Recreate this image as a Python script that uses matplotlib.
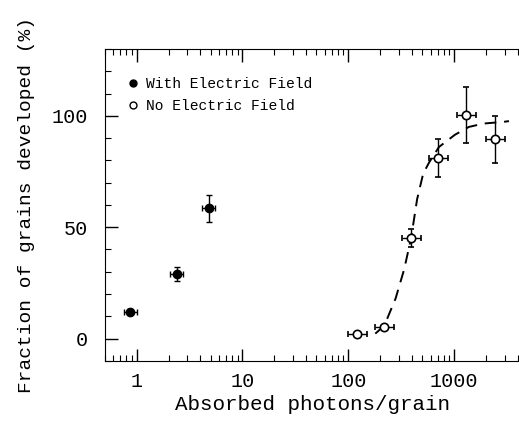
import numpy as np
import matplotlib.pyplot as plt
from matplotlib.ticker import MultipleLocator, NullFormatter

# with electric field
with_x = [0.87, 2.38, 4.8]
with_y = [12, 29, 58.5]
with_yerr = [1.2, 3, 6]

# no electric field
no_x = [122, 219, 392, 707, 1300, 2450]
no_y = [2, 5, 45, 81, 100.5, 89.5]
no_yerr = [0.8, 1, 4, 8.5, 12.5, 10.5]

# dashed fit curve
fit_x = [180, 219, 280, 337, 392, 447, 510, 580, 720, 1020, 1380, 1900, 2960, 3300]
fit_y = [2.2, 5.8, 18, 31, 45, 62.5, 74, 79, 86, 91.5, 95, 96.5, 97.3, 97.6]

plt.rcParams['font.family'] = ['Liberation Mono', 'DejaVu Sans Mono']

fig = plt.figure(figsize=(5.19, 4.22), dpi=100)
ax = fig.add_axes([0.202, 0.145, 0.80, 0.739])

# horizontal errors ~ +-0.09 decades
def xerr(xs, d):
    xs = np.array(xs)
    return [xs * (1 - 10**-d), xs * (10**d - 1)]

ax.errorbar(with_x, with_y, yerr=with_yerr, xerr=xerr(with_x, 0.06), fmt='o',
            color='black', ms=6, capsize=2.5, elinewidth=1, mfc='black', label='With Electric Field')
ax.errorbar(no_x, no_y, yerr=no_yerr, xerr=xerr(no_x, 0.09), fmt='o',
            color='black', ms=6, capsize=2.5, elinewidth=1, mfc='white', mew=1.2, label='No Electric Field')
ax.plot(fit_x, fit_y, '--', color='black', lw=1.4, dashes=(6, 4))

ax.set_xscale('log')
ax.set_xlim(0.5, 4200)
ax.set_ylim(-10, 130)
ax.set_xticks([1, 10, 100, 1000])
ax.set_xticklabels(['1', '10', '100', '1000'])
ax.xaxis.set_minor_formatter(NullFormatter())
ax.set_yticks([0, 50, 100])
ax.yaxis.set_minor_locator(MultipleLocator(10))

ax.tick_params(which='both', direction='in', top=True, right=False, labelsize=14.5)
ax.tick_params(which='major', length=9, width=1)
ax.tick_params(which='minor', length=4.5, width=0.8)
ax.tick_params(axis='y', which='major', pad=12)
ax.tick_params(axis='x', which='major', pad=8)
ax.spines['right'].set_visible(False)

ax.set_xlabel('Absorbed photons/grain', fontsize=15, labelpad=3)
ax.set_ylabel('Fraction of grains developed (%)', fontsize=14, labelpad=12)

h1 = plt.Line2D([], [], marker='o', ls='', color='black', ms=5, mfc='black')
h2 = plt.Line2D([], [], marker='o', ls='', color='black', ms=5, mfc='white')
ax.legend([h1, h2], ['With Electric Field', 'No Electric Field'], loc='upper left',
          frameon=False, fontsize=10.5, handlelength=0.8, handletextpad=0.5,
          bbox_to_anchor=(0.04, 0.93), borderaxespad=0, labelspacing=0.6)

fig.savefig('out.png', dpi=100)
